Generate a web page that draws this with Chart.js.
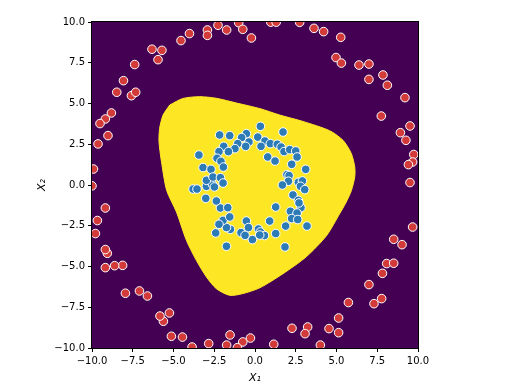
<!DOCTYPE html>
<html><head><meta charset="utf-8">
<script src="https://cdn.jsdelivr.net/npm/chart.js@4/dist/chart.umd.min.js"></script>
<style>html,body{margin:0;padding:0;background:#fff}#wrap{width:515px;height:382px}</style>
</head><body><div id="wrap"><canvas id="c" width="515" height="382"></canvas></div>
<script>
const tickValues = [-10, -7.5, -5, -2.5, 0, 2.5, 5, 7.5, 10];
const tickLabels = ['\u221210.0', '\u22127.5', '\u22125.0', '\u22122.5', '0.0', '2.5', '5.0', '7.5', '10.0'];

// decision region boundary (class 1 area), traced clockwise
const regionX = [-5.23, -4.42, -3.39, -2.37, -1.14, 0.29, 1.52, 2.94, 4.58, 5.40, 5.91, 6.12, 6.12, 5.91, 5.56, 5.20, 4.38, 3.15, 1.72, 0.29, -0.74, -1.55, -2.37, -2.98, -3.60, -4.21, -4.82, -5.42, -5.74, -5.89, -5.85, -5.64, -5.23];
const regionY = [4.91, 5.31, 5.42, 5.32, 5.03, 4.69, 4.29, 3.90, 3.33, 2.74, 1.93, 1.10, 0.50, -0.35, -1.12, -1.75, -3.12, -4.40, -5.44, -6.31, -6.66, -6.77, -6.36, -5.64, -4.62, -3.39, -1.65, -0.33, 1.44, 2.66, 3.48, 4.29, 4.91];

// outer ring (class 0)
const outerX = [-1.00, -2.27, -2.92, -2.92, -1.74, -0.75, -0.22, -4.02, -4.54, -6.32, -5.71, -5.95, -7.38, -8.07, -8.48, -7.58, -7.32, -8.81, -9.18, -9.51, -9.02, -9.63, -9.91, -10.00, 0.97, 1.30, 2.74, 3.62, 4.21, 5.26, 4.97, 5.30, 6.38, 6.99, 6.99, 7.85, 8.12, 9.20, 7.75, 8.92, 9.51, 9.26, 9.74, 9.67, 9.41, 9.51, 9.67, 8.51, 9.02, 8.08, 8.51, 7.82, 6.99, 7.77, 7.30, 5.73, 5.13, 4.54, 5.13, 3.23, 3.07, 2.27, 4.01, 1.15, -0.28, -0.75, -1.08, -1.53, -1.74, -2.84, -3.86, -4.45, -5.13, -5.62, -5.83, -5.25, -6.60, -7.09, -7.95, -8.12, -8.61, -9.18, -9.06, -9.18, -9.79, -9.67, -9.18];
const outerY = [9.96, 9.80, 9.51, 9.18, 9.51, 9.55, 9.02, 9.29, 8.86, 8.33, 8.26, 7.69, 7.39, 6.40, 5.69, 5.48, 5.69, 4.42, 4.05, 3.77, 3.03, 2.52, 0.98, -0.05, 9.99, 9.99, 9.98, 9.61, 9.41, 9.06, 7.82, 7.48, 7.36, 7.42, 6.48, 6.75, 6.12, 5.36, 4.23, 3.21, 3.62, 2.74, 1.87, 1.41, 1.25, 0.15, -2.58, -3.33, -3.66, -4.82, -4.80, -5.42, -6.11, -6.97, -7.28, -7.21, -8.16, -8.81, -9.06, -8.71, -9.12, -8.79, -9.82, -9.77, -9.39, -9.63, -9.98, -9.20, -9.82, -9.73, -9.94, -9.33, -9.28, -8.36, -8.04, -7.85, -6.81, -6.50, -6.64, -4.93, -4.95, -5.07, -4.19, -3.96, -2.98, -2.18, -1.41];

// inner ring (class 1)
const innerX = [0.33, -2.17, -1.55, -0.53, -0.82, -0.37, 0.17, 1.72, 0.61, 0.94, 1.37, 1.60, 0.37, -1.06, -1.23, -0.57, -1.92, -1.63, -2.21, -3.44, -2.33, -2.09, -1.94, -3.19, -2.70, 0.78, 1.23, 1.78, 2.13, 2.50, 2.58, 2.25, 3.11, 1.96, 2.09, 2.05, 1.68, 2.66, 2.91, 2.79, 3.05, 2.33, 2.66, 2.82, 2.70, 2.17, 1.27, 2.58, 2.25, 2.62, 1.88, 3.19, 0.90, 1.27, 1.84, 0.21, 0.33, 0.58, 0.29, -0.16, -0.53, -0.40, -0.86, -0.61, -1.51, -1.75, -1.96, -2.21, -2.41, -1.75, -1.55, -2.12, -1.67, -2.37, -3.02, -3.80, -3.56, -2.98, -2.61, -2.98, -2.58, -2.12, -1.96, -2.49];
const innerY = [3.60, 3.07, 3.03, 3.15, 2.91, 2.64, 2.94, 3.25, 2.70, 2.54, 2.50, 2.33, 2.37, 2.54, 2.23, 2.37, 2.37, 2.05, 2.05, 1.84, 1.64, 1.45, 1.10, 1.07, 0.96, 1.72, 1.47, 2.05, 2.17, 2.09, 1.72, 1.27, 0.96, 0.64, 0.58, 0.23, 0.00, 0.17, 0.25, -0.08, -0.28, -0.61, -0.94, -1.39, -1.10, -1.61, -1.35, -1.72, -2.06, -2.12, -2.52, -2.52, -2.21, -2.98, -3.80, -2.70, -2.88, -3.10, -3.07, -3.35, -2.21, -2.61, -2.92, -3.09, -2.72, -2.61, -2.17, -2.41, -2.94, -3.76, -1.96, -1.41, -1.39, -0.98, -0.82, -0.25, -0.25, -0.08, 0.04, 0.29, 0.49, 0.45, 0.12, -0.12];

const toPts = (xs, ys) => xs.map((x, i) => ({x: x, y: ys[i]}));

const bgPlugin = {
  id: 'bgFrame',
  beforeDatasetsDraw(chart) {
    const a = chart.chartArea, ctx = chart.ctx;
    ctx.save();
    ctx.fillStyle = '#440154';
    ctx.fillRect(a.left, a.top, a.right - a.left, a.bottom - a.top);
    ctx.restore();
  },
  afterDraw(chart) {
    const a = chart.chartArea, ctx = chart.ctx;
    ctx.save();
    ctx.strokeStyle = '#000';
    ctx.lineWidth = 1;
    ctx.strokeRect(Math.round(a.left) - 0.5, Math.round(a.top) - 0.5, Math.round(a.right - a.left) + 1, Math.round(a.bottom - a.top) + 1);
    ctx.restore();
  }
};

const font = {family: 'DejaVu Sans', size: 10};
function axis(title, w, h, tpad) {
  return {
    type: 'linear', min: -10, max: 10,
    afterBuildTicks: s => { s.ticks = tickValues.map(v => ({value: v})); },
    afterFit: s => { if (w) s.width = w; if (h) s.height = h; },
    ticks: {color: '#000', font: font, padding: 3, maxRotation: 0, autoSkip: false,
      callback: v => tickLabels[tickValues.indexOf(v)]},
    grid: {display: true, drawOnChartArea: false, drawTicks: true, tickLength: 4, color: '#000', tickWidth: 1},
    border: {display: false},
    title: {display: true, text: title, color: '#000', font: {family: 'DejaVu Sans', size: 11, style: 'italic'}, padding: tpad}
  };
}

Chart.defaults.animation = false;
new Chart(document.getElementById('c'), {
  type: 'scatter',
  data: {
    datasets: [
      {data: toPts(regionX, regionY), showLine: true, fill: 'shape', backgroundColor: '#fde725', borderColor: '#fde725', borderWidth: 1, tension: 0.25, pointRadius: 0, order: 3, clip: 0},
      {data: toPts(outerX, outerY), backgroundColor: '#d33b3b', borderColor: '#ffffff', borderWidth: 1, pointRadius: 4.3, order: 1, clip: 0},
      {data: toPts(innerX, innerY), backgroundColor: '#2c7bb6', borderColor: '#ffffff', borderWidth: 1, pointRadius: 4.3, order: 1, clip: 0}
    ]
  },
  options: {
    responsive: false, devicePixelRatio: 1, animation: false,
    layout: {padding: {left: 34, right: 97, top: 22, bottom: -3}},
    plugins: {legend: {display: false}, tooltip: {enabled: false}},
    scales: {
      x: axis('X\u2081', 0, 37, {top: -1, bottom: 0}),
      y: axis('X\u2082', 58, 0, {top: 2, bottom: 1})
    }
  },
  plugins: [bgPlugin]
});
</script></body></html>
